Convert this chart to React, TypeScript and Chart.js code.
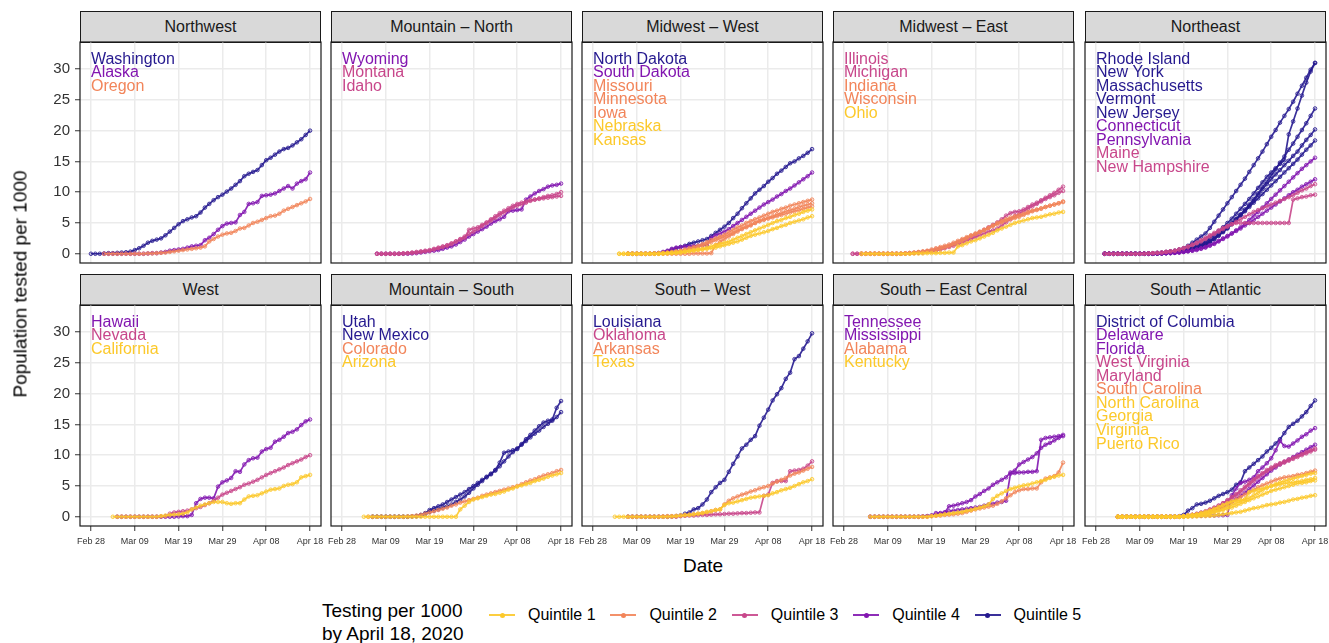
import React, { useEffect, useRef } from 'react';
import { Chart, registerables } from 'chart.js';

Chart.register(...registerables);

const FONT = '"Liberation Sans", Arial, Helvetica, sans-serif';
Chart.defaults.font.family = FONT;

// ---------- axis ticks / labels ----------
const dayTicks = [0, 10, 20, 30, 40, 50];
const dateLabels = ['Feb 28', 'Mar 09', 'Mar 19', 'Mar 29', 'Apr 08', 'Apr 18'];
const yTicks = [0, 5, 10, 15, 20, 25, 30];

const quintileNames = ['Quintile 1', 'Quintile 2', 'Quintile 3', 'Quintile 4', 'Quintile 5'];
const quintileColors = ['#FCC92B', '#F2855A', '#C8478B', '#8216B0', '#25198F'];

const regionNames = [
  'Northwest', 'Mountain \u2013 North', 'Midwest \u2013 West', 'Midwest \u2013 East', 'Northeast',
  'West', 'Mountain \u2013 South', 'South \u2013 West', 'South \u2013 East Central', 'South \u2013 Atlantic',
];

// ---------- series (population tested per 1000, one value per day from the start day) ----------
const washington = [0, 0, 0, 0.05, 0.1, 0.1, 0.15, 0.2, 0.25, 0.35,
  0.6, 0.9, 1.3, 1.8, 2.1, 2.3, 2.5, 3.0, 3.6, 4.2,
  4.8, 5.3, 5.6, 5.9, 6.1, 6.7, 7.5, 8.1, 8.7, 9.2,
  9.6, 10.1, 10.6, 11.2, 11.8, 12.6, 13.0, 13.3, 13.6, 14.4,
  15.2, 15.6, 16.1, 16.6, 17.0, 17.2, 17.6, 18.1, 18.6, 19.3, 20.0];
const alaska = [0, 0, 0, 0, 0, 0, 0, 0, 0, 0, 0.05, 0.1,
  0.1, 0.2, 0.3, 0.5, 0.6, 0.7, 0.8, 1.0, 1.2, 1.3, 1.4,
  2.2, 2.6, 3.2, 3.9, 4.5, 4.9, 5.0, 5.1, 6.3, 6.8, 8.1, 8.2, 8.4, 9.4, 9.5, 9.6, 9.8, 10.2, 10.6, 11.0, 10.6, 11.4, 11.8, 12.1, 13.2];
const oregon = [0, 0, 0, 0, 0, 0, 0, 0, 0, 0, 0.05, 0.05,
  0.1, 0.15, 0.2, 0.3, 0.4, 0.5, 0.6, 0.7, 0.8, 0.9, 1.0, 1.2,
  2.0, 2.4, 2.8, 3.1, 3.3, 3.4, 3.7, 4.1, 4.2, 4.6, 5.0, 5.2, 5.5, 5.8, 6.1, 6.2, 6.5, 7.0, 7.3, 7.6, 7.9, 8.2, 8.5, 8.9];

const wyoming = [0, 0, 0, 0, 0, 0, 0, 0, 0.05, 0.1,
  0.2, 0.3, 0.4, 0.5, 0.6, 0.8, 1.0, 1.2, 1.5, 1.9, 2.3, 2.8,
  3.2, 3.6, 4.0, 4.4, 4.9, 5.3, 5.6, 6.0, 6.9, 7.0,
  7.1, 7.2, 8.8, 9.3, 9.8, 10.2, 10.5, 10.9, 11.1, 11.2, 11.4];
const montana = [0, 0, 0, 0, 0, 0, 0.05, 0.1, 0.15, 0.2,
  0.3, 0.4, 0.5, 0.7, 0.9, 1.1, 1.3, 1.6, 2.0, 2.4, 2.8, 3.2,
  3.6, 4.0, 4.5, 5.0, 5.4, 5.8, 6.3, 6.7, 7.1, 7.5,
  7.8, 8.0, 8.3, 8.6, 8.8, 9.0, 9.2, 9.4, 9.5, 9.7, 10.0];
const idaho = [0, 0, 0, 0, 0, 0, 0.05, 0.1, 0.2, 0.3,
  0.4, 0.5, 0.6, 0.8, 1.0, 1.2, 1.4, 1.7, 2.0, 2.3, 2.6, 3.9,
  4.1, 4.3, 4.7, 5.1, 5.6, 6.1, 6.6, 7.0, 7.4, 7.8,
  8.1, 8.3, 8.5, 8.7, 8.8, 8.9, 9.0, 9.1, 9.2, 9.3, 9.4];

const northDakota = [0, 0, 0, 0, 0, 0, 0.05, 0.1, 0.2, 0.4,
  0.7, 0.9, 1.1, 1.3, 1.6, 1.8, 2.0, 2.2, 2.4, 2.9, 3.4, 3.9,
  4.4, 5.0, 5.8, 6.5, 7.4, 8.2, 9.0, 9.8, 10.4, 11.0,
  11.7, 12.3, 13.0, 13.5, 14.1, 14.7, 15.0, 15.5, 15.9, 16.4, 17.0];
const southDakota = [0, 0, 0, 0, 0, 0, 0.05, 0.1, 0.3, 0.5,
  0.8, 1.0, 1.1, 1.2, 1.2, 1.3, 1.3, 1.4, 1.4, 2.6, 3.0, 3.3,
  3.6, 4.0, 4.5, 5.0, 5.5, 6.0, 6.5, 7.0, 7.5, 8.0,
  8.4, 8.8, 9.3, 9.7, 10.2, 10.6, 11.1, 11.6, 12.1, 12.6, 13.2];
const missouri = [0, 0, 0, 0, 0, 0, 0, 0, 0, 0, 0, 0, 0, 0, 0, 0.05, 0.05, 0.05, 0.05, 0.1,
  1.4, 1.9, 2.4, 2.8, 3.2, 3.6, 4.0, 4.3, 4.6, 5.0, 5.3, 5.5,
  5.7, 5.9, 6.1, 6.3, 6.5, 6.7, 6.9, 7.1, 7.3, 7.5, 7.7];
const minnesota = [0, 0, 0, 0, 0, 0, 0.05, 0.1, 0.15, 0.2,
  0.3, 0.4, 0.5, 0.7, 0.9, 1.1, 1.3, 1.6, 1.9, 2.2, 2.5, 2.8,
  3.1, 3.5, 3.9, 4.3, 4.6, 5.0, 5.3, 5.6, 5.9, 6.2,
  6.5, 6.8, 7.0, 7.3, 7.5, 7.8, 8.0, 8.2, 8.4, 8.6, 8.8];
const iowa = [0, 0, 0, 0, 0, 0, 0, 0.05, 0.1, 0.15,
  0.2, 0.3, 0.4, 0.5, 0.7, 0.9, 1.1, 1.3, 1.6, 1.9, 2.2, 2.5,
  2.8, 3.1, 3.4, 3.8, 4.1, 4.4, 4.7, 5.0, 5.3, 5.6,
  5.9, 6.1, 6.4, 6.6, 6.9, 7.1, 7.3, 7.6, 7.8, 8.0, 8.2];
const nebraska = [0, 0, 0, 0, 0, 0, 0, 0, 0, 0, 0.05, 0.1,
  0.15, 0.2, 0.3, 0.4, 0.5, 0.6, 0.7, 0.8, 1.0, 1.2, 1.4, 1.6,
  1.8, 2.0, 2.3, 2.6, 2.9, 3.2, 3.5, 3.8, 4.1, 4.4,
  4.7, 5.0, 5.3, 5.5, 5.8, 6.0, 6.3, 6.5, 6.8, 7.0, 7.2];
const kansas = [0, 0, 0, 0, 0, 0, 0, 0, 0, 0, 0.05, 0.1,
  0.1, 0.15, 0.2, 0.3, 0.4, 0.5, 0.6, 0.7, 0.8, 0.9, 1.0, 1.2,
  1.4, 1.6, 1.8, 2.0, 2.3, 2.6, 2.9, 3.1, 3.3, 3.5,
  3.7, 4.0, 4.2, 4.5, 4.7, 5.0, 5.2, 5.4, 5.6, 5.9, 6.1];

const illinois = [0, 0, 0, 0, 0, 0, 0, 0, 0, 0, 0, 0,
  0.05, 0.1, 0.15, 0.2, 0.3, 0.4,
  0.5, 0.7, 0.9, 1.1, 1.3, 1.6, 1.9, 2.2, 2.5, 2.8,
  3.1, 3.5, 3.9, 4.3, 4.7, 5.1, 5.6, 6.2, 6.6, 6.8,
  6.9, 7.2, 7.6, 8.0, 8.3, 8.7, 9.1, 9.5, 9.9, 10.4, 10.9];
const michigan = [0, 0, 0, 0, 0, 0, 0, 0, 0, 0, 0, 0,
  0.05, 0.1, 0.1, 0.15, 0.2, 0.3,
  0.4, 0.5, 0.7, 0.9, 1.1, 1.3, 1.5, 1.8, 2.1, 2.4,
  2.7, 3.0, 3.3, 3.6, 3.8, 4.1, 4.6, 5.1, 5.6, 6.1,
  6.5, 6.9, 7.3, 7.7, 8.1, 8.5, 8.9, 9.2, 9.5, 9.9, 10.2];
const indiana = [0, 0, 0, 0, 0, 0, 0, 0, 0, 0,
  0.05, 0.1, 0.2, 0.3, 0.4, 0.5,
  0.7, 0.9, 1.1, 1.3, 1.5, 1.8, 2.1, 2.4, 2.7, 3.0,
  3.3, 3.6, 3.9, 4.2, 4.5, 4.8, 5.1, 5.4, 5.6, 5.8,
  6.0, 6.3, 6.6, 6.9, 7.1, 7.3, 7.6, 7.8, 8.0, 8.2, 8.5];
const wisconsin = [0, 0, 0, 0, 0, 0, 0, 0, 0, 0,
  0.05, 0.1, 0.15, 0.2, 0.3, 0.4,
  0.5, 0.6, 0.8, 1.0, 1.2, 1.5, 1.8, 2.1, 2.5, 2.9,
  3.2, 3.5, 3.8, 4.2, 4.6, 5.0, 5.3, 5.6, 5.9, 6.1,
  6.3, 6.5, 6.8, 7.0, 7.2, 7.4, 7.6, 7.8, 8.0, 8.2, 8.4];
const ohio = [0, 0, 0, 0, 0, 0, 0, 0, 0, 0, 0, 0, 0.05, 0.05, 0.05, 0.1, 0.1, 0.1, 0.15, 0.15, 0.2, 0.2,
  1.2, 1.4, 1.7, 2.0,
  2.2, 2.5, 2.8, 3.1, 3.4, 3.8, 4.1, 4.4, 4.7, 5.0,
  5.2, 5.4, 5.6, 5.8, 5.9, 6.0, 6.2, 6.4, 6.5, 6.7, 6.8];

const rhodeIsland = [0, 0, 0, 0, 0, 0, 0, 0, 0, 0, 0, 0, 0.05, 0.1, 0.15, 0.2,
  0.3, 0.4, 0.6, 0.8, 1.0, 1.3, 1.6, 2.0, 2.5, 3.1, 3.7, 4.3,
  5.0, 5.7, 6.5, 7.3, 8.1, 8.9, 9.8, 10.7, 11.6, 12.5,
  13.2, 13.9, 14.6, 15.2, 19.4, 21.5, 23.6, 25.7, 27.8, 29.6, 31.0];
const newYork = [0, 0, 0, 0, 0, 0, 0, 0, 0, 0, 0.05, 0.1, 0.15, 0.2, 0.3, 0.4,
  0.5, 0.7, 0.9, 1.3, 1.8, 2.3, 2.8, 3.3, 4.2, 5.2, 6.2, 7.2,
  8.2, 9.2, 10.2, 11.2, 12.2, 13.3, 14.4, 15.5, 16.6, 17.8,
  19.0, 20.1, 21.3, 22.4, 23.5, 24.7, 26.0, 27.3, 28.6, 29.9, 31.0];
const massachusetts = [0, 0, 0, 0, 0, 0, 0, 0, 0, 0, 0, 0, 0.05, 0.1, 0.15, 0.2,
  0.3, 0.4, 0.5, 0.7, 0.9, 1.1, 1.4, 1.7, 2.1, 2.6, 3.1, 3.7,
  4.3, 5.0, 5.7, 6.4, 7.2, 8.0, 8.9, 9.8, 10.8, 11.7,
  12.7, 13.7, 14.8, 15.8, 16.9, 17.9, 19.0, 20.1, 21.2, 22.4, 23.6];
const vermont = [0, 0, 0, 0, 0, 0, 0, 0, 0, 0, 0, 0, 0.05, 0.1, 0.1, 0.15,
  0.2, 0.3, 0.4, 0.5, 0.7, 0.9, 1.2, 1.5, 1.9, 2.4, 3.0, 3.6,
  4.2, 4.9, 5.6, 6.3, 7.0, 7.8, 8.6, 9.6, 10.5, 11.3,
  12.1, 12.9, 13.6, 14.4, 15.1, 15.9, 16.6, 17.6, 18.5, 19.3, 20.2];
const newJersey = [0, 0, 0, 0, 0, 0, 0, 0, 0, 0, 0, 0, 0.05, 0.05, 0.1, 0.15,
  0.2, 0.3, 0.4, 0.5, 0.7, 0.9, 1.2, 1.5, 1.9, 2.4, 2.9, 3.5,
  4.1, 4.8, 5.5, 6.2, 6.9, 7.6, 8.3, 9.0, 9.7, 10.4,
  11.1, 11.8, 12.5, 13.2, 13.9, 14.6, 15.3, 16.1, 16.9, 17.6, 18.4];
const connecticut = [0, 0, 0, 0, 0, 0, 0, 0, 0, 0, 0, 0, 0.05, 0.05, 0.1, 0.1,
  0.15, 0.2, 0.3, 0.4, 0.5, 0.6, 0.8, 1.0, 1.3, 1.6, 2.0, 2.4,
  2.8, 3.3, 3.8, 4.3, 4.9, 5.5, 6.2, 6.8, 7.5, 8.2,
  8.9, 9.6, 10.3, 11.0, 11.7, 12.4, 13.1, 13.8, 14.4, 15.0, 15.6];
const pennsylvania = [0, 0, 0, 0, 0, 0, 0, 0, 0, 0, 0, 0, 0.05, 0.05, 0.1, 0.1,
  0.15, 0.2, 0.3, 0.4, 0.5, 0.7, 0.9, 1.1, 1.4, 1.7, 2.1, 2.5,
  2.9, 3.3, 3.7, 4.1, 4.6, 5.0, 5.5, 6.0, 6.5, 7.0,
  7.5, 8.0, 8.5, 9.0, 9.5, 10.0, 10.4, 10.9, 11.3, 11.7, 12.1];
const maine = [0, 0, 0, 0, 0, 0, 0, 0, 0, 0, 0.05, 0.1, 0.15, 0.2, 0.3, 0.4,
  0.5, 0.7, 0.9, 1.1, 1.4, 1.7, 2.0, 2.4, 2.8, 3.2, 3.6, 4.0,
  4.4, 4.8, 5.2, 5.6, 6.0, 6.4, 6.8, 7.1, 7.4, 7.7,
  8.0, 8.3, 8.6, 8.9, 9.2, 9.5, 9.9, 10.3, 10.6, 11.0, 11.3];
const newHampshire = [0, 0, 0, 0, 0, 0, 0, 0, 0, 0, 0.05, 0.1, 0.15, 0.2, 0.3, 0.4,
  0.5, 0.7, 0.9, 1.2, 1.5, 1.8, 2.2, 2.6, 3.0, 3.4, 3.8, 4.2,
  4.5, 4.8, 5.0, 5.0, 5.0, 5.0, 5.0, 5.0, 5.0, 5.0,
  5.0, 5.0, 5.0, 5.0, 5.0, 8.8, 9.0, 9.2, 9.3, 9.5, 9.6];

const hawaii = [0, 0, 0, 0, 0, 0, 0, 0, 0, 0, 0, 0, 0, 0, 0.05, 0.1,
  0.1, 0.3, 2.2, 2.9, 3.1, 3.1, 3.0, 4.9, 5.6, 5.9,
  6.3, 7.4, 7.3, 8.5, 9.2, 9.5, 9.6, 10.6, 11.0, 11.2,
  12.2, 12.5, 13.0, 13.6, 13.8, 14.2, 14.9, 15.5, 15.8];
const nevada = [0, 0, 0, 0, 0, 0, 0, 0, 0, 0, 0.05, 0.1,
  0.5, 0.7, 0.8, 0.9, 1.0, 1.2, 1.4, 1.6, 1.9, 2.2, 2.6, 3.1,
  3.6, 3.9, 4.2, 4.5, 4.8, 5.2, 5.4, 5.7, 6.0, 6.4,
  6.8, 7.1, 7.4, 7.7, 8.0, 8.4, 8.7, 9.0, 9.3, 9.7, 10.0];
const california = [0, 0, 0, 0, 0, 0, 0, 0, 0, 0, 0, 0.1, 0.2,
  0.3, 0.35, 0.4, 0.5, 0.7, 1.2, 1.5, 1.8, 2.0, 2.2, 2.4, 2.4,
  2.4, 2.2, 2.1, 2.2, 2.2, 2.8, 3.3, 3.4, 3.5, 3.8,
  4.1, 4.4, 4.5, 4.6, 5.0, 5.2, 5.3, 5.6, 6.4, 6.6, 6.8];

const utah = [0, 0, 0, 0, 0, 0, 0, 0, 0, 0.05, 0.1,
  0.3, 0.6, 1.1, 1.4, 1.7, 2.0, 2.4, 2.8, 3.2, 3.6, 4.0, 4.5,
  5.0, 5.5, 6.0, 6.4, 6.9, 7.6, 8.8, 10.4, 10.6, 10.8,
  11.1, 11.7, 12.3, 12.9, 13.5, 14.0, 14.6, 15.1, 15.6, 16.2, 17.0];
const newMexico = [0, 0, 0, 0, 0, 0, 0, 0, 0, 0.05, 0.1,
  0.2, 0.4, 0.8, 1.0, 1.2, 1.5, 1.7, 2.0, 2.4, 2.8, 3.3, 3.9,
  4.6, 5.2, 5.8, 6.5, 7.0, 7.5, 8.2, 9.0, 9.8, 10.5,
  11.0, 11.8, 12.6, 13.3, 14.0, 14.7, 15.3, 15.6, 15.8, 17.7, 18.8];
const colorado = [0, 0, 0, 0, 0, 0, 0, 0, 0, 0.05, 0.1, 0.2,
  0.3, 0.5, 0.7, 0.9, 1.1, 1.3, 1.5, 1.8, 2.0, 2.3, 2.5, 2.7,
  2.9, 3.1, 3.4, 3.6, 3.8, 4.0, 4.2, 4.4, 4.6, 4.8,
  5.0, 5.3, 5.6, 5.9, 6.1, 6.4, 6.7, 6.9, 7.1, 7.4, 7.6];
const arizona = [0, 0, 0, 0, 0, 0, 0, 0, 0, 0, 0, 0, 0, 0, 0, 0, 0, 0, 0, 0, 0, 0,
  1.2, 1.8, 2.4,
  2.8, 3.0, 3.2, 3.4, 3.6, 3.7, 3.9, 4.1, 4.4, 4.6,
  4.9, 5.1, 5.3, 5.5, 5.8, 6.0, 6.2, 6.5, 6.7, 6.9, 7.1];

const louisiana = [0, 0, 0, 0, 0, 0, 0, 0, 0, 0, 0.05, 0.1,
  0.2, 0.5, 0.7, 1.2, 1.4, 2.0, 2.8, 4.0, 4.8, 5.5,
  6.0, 7.3, 8.6, 9.8, 11.1, 11.7, 12.5, 13.1, 14.8, 16.1,
  17.4, 18.9, 19.9, 20.9, 22.4, 23.4, 25.6, 26.1, 27.3, 28.5, 29.8];
const oklahoma = [0, 0, 0, 0, 0, 0, 0, 0, 0, 0, 0, 0,
  0.1, 0.15, 0.2, 0.2, 0.25, 0.3, 0.3, 0.35, 0.4, 0.4, 0.45, 0.5, 0.5, 0.55, 0.6, 0.6, 0.65, 0.7, 0.7,
  3.4, 3.6, 5.5, 5.8, 5.8, 5.8, 7.4, 7.5, 7.6, 7.8, 8.3, 9.0];
const arkansas = [0, 0, 0, 0, 0, 0, 0, 0, 0.05, 0.1, 0.1, 0.15,
  0.2, 0.3, 0.35, 0.4, 0.5, 0.6, 0.7, 0.9, 1.1, 1.2,
  2.0, 2.6, 3.0, 3.3, 3.6, 3.8, 4.1, 4.3, 4.6, 4.8,
  5.0, 5.4, 5.7, 6.0, 6.3, 6.7, 7.0, 7.2, 7.5, 7.8, 8.1];
const texas = [0, 0, 0, 0, 0, 0, 0, 0, 0, 0, 0, 0, 0, 0.05, 0.1,
  0.2, 0.25, 0.3, 0.4, 0.5, 0.6, 0.8, 0.9, 1.1, 1.2,
  1.9, 2.2, 2.3, 2.5, 2.7, 2.9, 3.1, 3.2, 3.3, 3.4,
  3.5, 3.8, 4.0, 4.3, 4.5, 4.7, 5.0, 5.3, 5.6, 5.8, 6.1];

const tennessee = [0, 0, 0, 0, 0, 0, 0, 0, 0, 0, 0, 0, 0.05, 0.1,
  0.2, 0.6, 0.6, 0.7, 1.7, 1.8, 2.0, 2.2, 2.4, 2.7,
  3.3, 3.7, 4.2, 4.6, 5.2, 5.6, 6.0, 6.4, 7.2, 7.5,
  8.5, 8.9, 9.3, 9.7, 10.3, 11.2, 11.7, 12.0, 12.4, 12.8, 13.1];
const mississippi = [0, 0, 0, 0, 0, 0, 0, 0, 0, 0, 0, 0, 0.05, 0.1,
  0.2, 0.3, 0.5, 0.7, 0.9, 1.0, 1.1, 1.2, 1.3, 1.4,
  1.5, 1.6, 1.8, 2.0, 2.1, 2.3, 2.4, 2.6, 7.0, 7.1,
  7.2, 7.2, 7.3, 7.3, 7.4, 12.5, 12.8, 12.9, 13.0, 13.1, 13.3];
const alabama = [0, 0, 0, 0, 0, 0, 0, 0, 0, 0, 0, 0, 0, 0,
  0.1, 0.15, 0.2, 0.3, 0.35, 0.4, 0.5, 0.6, 0.8, 1.0,
  1.2, 1.35, 1.5, 1.65, 1.8, 2.1, 2.5, 3.0, 3.5, 4.0,
  4.3, 4.5, 4.5, 4.6, 4.6, 5.6, 6.2, 6.4, 6.6, 7.2, 8.8];
const kentucky = [0, 0, 0, 0, 0, 0, 0, 0, 0, 0, 0, 0, 0, 0,
  0.1, 0.2, 0.3, 0.4, 0.5, 0.6, 0.7, 0.8, 1.0, 1.1,
  1.3, 1.5, 1.7, 2.0, 2.9, 3.4, 3.8, 4.2, 4.5, 4.7,
  4.9, 5.1, 5.2, 5.4, 5.6, 5.8, 6.0, 6.3, 6.5, 6.7, 6.8];

const districtOfColumbia = [0, 0, 0, 0, 0, 0, 0, 0, 0, 0, 0, 0, 0, 0.05, 0.1,
  0.3, 1.0, 1.4, 2.0, 2.1, 2.3, 2.6, 3.0, 3.4, 3.7,
  4.0, 4.4, 5.2, 5.6, 7.4, 8.0, 8.6, 9.2, 9.8, 10.6,
  11.2, 11.9, 12.6, 13.6, 14.6, 15.1, 15.6, 16.3, 17.0, 18.0, 18.9];
const delaware = [0, 0, 0, 0, 0, 0, 0, 0, 0, 0, 0, 0, 0, 0, 0,
  0.1, 0.1, 0.1, 0.15, 0.15, 0.2, 0.2, 0.2, 0.25, 0.25,
  0.3, 3.5, 4.6, 5.5, 5.7, 6.0, 6.4, 7.4, 8.0, 8.7,
  9.5, 10.8, 12.3, 11.5, 11.4, 11.9, 12.4, 13.0, 13.4, 14.0, 14.4];
const florida = [0, 0, 0, 0, 0, 0, 0, 0, 0, 0, 0, 0, 0, 0, 0,
  0.1, 0.2, 0.3, 0.4, 0.5, 0.6, 0.8, 1.0, 1.3, 1.6,
  2.0, 2.4, 2.9, 3.4, 3.9, 4.5, 5.1, 5.7, 6.3, 6.9,
  7.5, 8.0, 8.5, 8.9, 9.3, 9.7, 10.1, 10.5, 10.9, 11.3, 11.7];
const westVirginia = [0, 0, 0, 0, 0, 0, 0, 0, 0, 0, 0, 0, 0, 0, 0,
  0.1, 0.2, 0.3, 0.4, 0.6, 0.8, 1.1, 1.4, 1.8, 2.2,
  2.7, 3.2, 3.7, 4.3, 4.9, 5.5, 6.1, 6.6, 7.1, 7.6,
  8.0, 8.4, 8.7, 9.0, 9.3, 9.6, 9.9, 10.2, 10.5, 10.8, 11.1];
const maryland = [0, 0, 0, 0, 0, 0, 0, 0, 0, 0, 0, 0, 0, 0, 0,
  0.1, 0.2, 0.3, 0.5, 0.7, 0.9, 1.2, 1.5, 1.8, 2.2,
  2.6, 3.0, 3.5, 4.0, 4.6, 5.2, 5.8, 6.4, 6.9, 7.4,
  7.8, 8.2, 8.5, 8.8, 9.1, 9.4, 9.7, 10.0, 10.3, 10.6, 10.9];
const southCarolina = [0, 0, 0, 0, 0, 0, 0, 0, 0, 0, 0, 0, 0, 0, 0,
  0.1, 0.2, 0.3, 0.4, 0.5, 0.7, 0.9, 1.1, 1.4, 1.7,
  2.0, 2.4, 2.8, 3.2, 3.6, 4.0, 4.4, 4.8, 5.1, 5.4,
  5.7, 6.0, 6.2, 6.4, 6.5, 6.6, 6.8, 6.9, 7.1, 7.3, 7.5];
const northCarolina = [0, 0, 0, 0, 0, 0, 0, 0, 0, 0, 0, 0, 0, 0, 0,
  0.1, 0.15, 0.2, 0.3, 0.4, 0.5, 0.7, 0.9, 1.1, 1.3,
  1.6, 1.9, 2.2, 2.5, 2.8, 3.1, 3.5, 3.9, 4.3, 4.7,
  5.0, 5.3, 5.6, 5.8, 6.0, 6.2, 6.4, 6.6, 6.8, 7.0, 7.1];
const georgia = [0, 0, 0, 0, 0, 0, 0, 0, 0, 0, 0, 0, 0, 0, 0,
  0.1, 0.2, 0.3, 0.4, 0.6, 0.8, 1.0, 1.3, 1.6, 1.9,
  2.2, 2.5, 2.6, 2.7, 2.8, 4.0, 4.2, 4.4, 4.6, 4.8,
  5.0, 5.1, 5.3, 5.4, 5.5, 5.6, 5.7, 5.8, 6.0, 6.1, 6.3];
const virginia = [0, 0, 0, 0, 0, 0, 0, 0, 0, 0, 0, 0, 0, 0, 0,
  0.05, 0.1, 0.15, 0.2, 0.3, 0.4, 0.5, 0.7, 0.9, 1.1,
  1.3, 1.5, 1.8, 2.1, 2.4, 2.7, 3.0, 3.3, 3.6, 3.9,
  4.2, 4.4, 4.6, 4.8, 5.0, 5.2, 5.4, 5.5, 5.6, 5.8, 5.9];
const puertoRico = [0, 0, 0, 0, 0, 0, 0, 0, 0, 0, 0, 0, 0, 0, 0,
  0, 0, 0.05, 0.05, 0.1, 0.1, 0.15, 0.2, 0.3, 0.4,
  0.5, 0.6, 0.7, 0.8, 1.0, 1.2, 1.4, 1.5, 1.7, 1.9,
  2.0, 2.1, 2.3, 2.4, 2.6, 2.8, 2.9, 3.1, 3.2, 3.4, 3.5];

// name, region index, quintile (1-5), first day (days after Feb 28), values
const stateRows: [string, number, number, number, number[]][] = [
  ['Washington', 0, 5, 0, washington],
  ['Alaska', 0, 4, 3, alaska],
  ['Oregon', 0, 2, 3, oregon],
  ['Wyoming', 1, 4, 8, wyoming],
  ['Montana', 1, 3, 8, montana],
  ['Idaho', 1, 3, 8, idaho],
  ['North Dakota', 2, 5, 8, northDakota],
  ['South Dakota', 2, 4, 8, southDakota],
  ['Missouri', 2, 2, 8, missouri],
  ['Minnesota', 2, 2, 8, minnesota],
  ['Iowa', 2, 2, 8, iowa],
  ['Nebraska', 2, 1, 6, nebraska],
  ['Kansas', 2, 1, 6, kansas],
  ['Illinois', 3, 3, 2, illinois],
  ['Michigan', 3, 3, 2, michigan],
  ['Indiana', 3, 2, 4, indiana],
  ['Wisconsin', 3, 2, 4, wisconsin],
  ['Ohio', 3, 1, 4, ohio],
  ['Rhode Island', 4, 5, 2, rhodeIsland],
  ['New York', 4, 5, 2, newYork],
  ['Massachusetts', 4, 5, 2, massachusetts],
  ['Vermont', 4, 5, 2, vermont],
  ['New Jersey', 4, 5, 2, newJersey],
  ['Connecticut', 4, 4, 2, connecticut],
  ['Pennsylvania', 4, 4, 2, pennsylvania],
  ['Maine', 4, 3, 2, maine],
  ['New Hampshire', 4, 3, 2, newHampshire],
  ['Hawaii', 5, 4, 6, hawaii],
  ['Nevada', 5, 3, 6, nevada],
  ['California', 5, 1, 5, california],
  ['Utah', 6, 5, 7, utah],
  ['New Mexico', 6, 5, 7, newMexico],
  ['Colorado', 6, 2, 6, colorado],
  ['Arizona', 6, 1, 5, arizona],
  ['Louisiana', 7, 5, 8, louisiana],
  ['Oklahoma', 7, 3, 8, oklahoma],
  ['Arkansas', 7, 2, 8, arkansas],
  ['Texas', 7, 1, 5, texas],
  ['Tennessee', 8, 4, 6, tennessee],
  ['Mississippi', 8, 4, 6, mississippi],
  ['Alabama', 8, 2, 6, alabama],
  ['Kentucky', 8, 1, 6, kentucky],
  ['District of Columbia', 9, 5, 5, districtOfColumbia],
  ['Delaware', 9, 4, 5, delaware],
  ['Florida', 9, 4, 5, florida],
  ['West Virginia', 9, 3, 5, westVirginia],
  ['Maryland', 9, 3, 5, maryland],
  ['South Carolina', 9, 2, 5, southCarolina],
  ['North Carolina', 9, 1, 5, northCarolina],
  ['Georgia', 9, 1, 5, georgia],
  ['Virginia', 9, 1, 5, virginia],
  ['Puerto Rico', 9, 1, 5, puertoRico],
];

// ---------- layout ----------
const PLOT_W = 241;
const PLOT_H = 221;
const COL_X0 = 79.5;
const COL_STEP = 251.3;
const ROW_TOPS = [42, 305];
const STRIP_H = 32;
const X_MIN = -2.5, X_MAX = 52.5;
const Y_MIN = -1.5, Y_MAX = 34.4;
const LABEL_X = 0, LABEL_Y0 = 31.6, LABEL_DY = 2.2;

function rgba(hex: string, a: number) {
  const n = parseInt(hex.slice(1), 16);
  return `rgba(${(n >> 16) & 255},${(n >> 8) & 255},${n & 255},${a})`;
}

function Panel({ region }: { region: number }) {
  const ref = useRef<HTMLCanvasElement | null>(null);
  const row = Math.floor(region / 5);
  const col = region % 5;
  const plotLeft = Math.round(COL_X0 + col * COL_STEP);
  const plotTop = ROW_TOPS[row];
  const padL = col === 0 ? 62 : 20;
  const padR = 20;
  const padT = 20;
  const padB = row === 1 ? 26 : 20;
  const cw = PLOT_W + padL + padR;
  const ch = PLOT_H + padT + padB;

  useEffect(() => {
    if (!ref.current) return;
    const rows = stateRows.filter((r) => r[1] === region);
    const datasets = rows.slice().reverse().map(([name, , q, start, vals]) => {
      const c = quintileColors[q - 1];
      return {
        label: name,
        data: vals.map((v, i) => ({ x: start + i, y: v })),
        borderColor: rgba(c, 0.9),
        borderWidth: 1.7,
        pointRadius: 1.8,
        pointBorderWidth: 0.9,
        pointBorderColor: rgba(c, 0.9),
        pointBackgroundColor: rgba(c, 0.2),
        pointHoverRadius: 0,
        tension: 0,
      };
    });
    const labels = rows.map(([name, , q]) => ({ text: name, color: quintileColors[q - 1] }));

    const framePlugin = {
      id: 'frame',
      afterDraw(chart: any) {
        const { ctx, chartArea: a } = chart;
        ctx.save();
        ctx.strokeStyle = '#1A1A1A';
        ctx.lineWidth = 1.2;
        ctx.strokeRect(a.left, a.top, a.right - a.left, a.bottom - a.top);
        ctx.restore();
      },
    };
    const labelPlugin = {
      id: 'stateLabels',
      afterDatasetsDraw(chart: any) {
        const { ctx } = chart;
        const xs = chart.scales.x;
        const ys = chart.scales.y;
        ctx.save();
        ctx.font = `16px ${FONT}`;
        ctx.textAlign = 'left';
        ctx.textBaseline = 'middle';
        labels.forEach((l, i) => {
          ctx.fillStyle = l.color;
          ctx.fillText(l.text, xs.getPixelForValue(LABEL_X), ys.getPixelForValue(LABEL_Y0 - i * LABEL_DY));
        });
        ctx.restore();
      },
    };

    const chart = new Chart(ref.current, {
      type: 'line',
      data: { datasets } as any,
      options: {
        animation: false,
        responsive: false,
        maintainAspectRatio: false,
        devicePixelRatio: 1,
        events: [],
        layout: { padding: { left: col === 0 ? 0 : padL, right: padR, top: padT, bottom: row === 1 ? 0 : padB } },
        plugins: { legend: { display: false }, tooltip: { enabled: false } },
        scales: {
          x: {
            type: 'linear',
            min: X_MIN,
            max: X_MAX,
            afterBuildTicks: (s: any) => { s.ticks = dayTicks.map((v) => ({ value: v })); },
            afterFit: (s: any) => { s.height = row === 1 ? 26 : 0; },
            ticks: {
              display: row === 1,
              autoSkip: false,
              maxRotation: 0,
              minRotation: 0,
              padding: 5,
              color: '#333333',
              font: { size: 9, family: FONT },
              callback: (v: any) => dateLabels[dayTicks.indexOf(Number(v))] ?? '',
            },
            grid: { color: '#EBEBEB', lineWidth: 1.5, drawTicks: row === 1, tickLength: 5, tickColor: '#333333', tickWidth: 1 },
            border: { display: false },
          },
          y: {
            type: 'linear',
            min: Y_MIN,
            max: Y_MAX,
            afterBuildTicks: (s: any) => { s.ticks = yTicks.map((v) => ({ value: v })); },
            afterFit: (s: any) => { s.width = col === 0 ? padL : 0; },
            ticks: {
              display: col === 0,
              autoSkip: false,
              padding: 5,
              color: '#333333',
              font: { size: 15, family: FONT },
              callback: (v: any) => String(v),
            },
            grid: { color: '#EBEBEB', lineWidth: 1.5, drawTicks: col === 0, tickLength: 5, tickColor: '#333333', tickWidth: 1 },
            border: { display: false },
          },
        },
      } as any,
      plugins: [framePlugin, labelPlugin],
    });
    return () => chart.destroy();
  }, []);

  return (
    <>
      <div
        style={{
          position: 'absolute', left: plotLeft, top: plotTop - STRIP_H + 1, width: PLOT_W, height: STRIP_H,
          boxSizing: 'border-box', border: '1px solid #1A1A1A', background: '#D9D9D9',
          display: 'flex', alignItems: 'center', justifyContent: 'center',
          fontSize: 16, color: '#1A1A1A', whiteSpace: 'nowrap',
        }}
      >
        {regionNames[region]}
      </div>
      <canvas
        ref={ref}
        width={cw}
        height={ch}
        style={{ position: 'absolute', left: plotLeft - padL, top: plotTop - padT, width: cw, height: ch }}
      />
    </>
  );
}

export default function App() {
  const legendLineX0 = 489;
  const legendStep = 121.4;
  return (
    <div
      style={{
        position: 'fixed', left: 0, top: 0, width: 1329, height: 643, overflow: 'hidden',
        background: '#FFFFFF', fontFamily: FONT, color: '#000',
      }}
    >
      {regionNames.map((_, i) => <Panel key={i} region={i} />)}

      <div
        style={{
          position: 'absolute', left: 20, top: 284, transform: 'translate(-50%, -50%) rotate(-90deg)',
          whiteSpace: 'nowrap', fontSize: 19, lineHeight: '19px',
        }}
      >
        Population tested per 1000
      </div>

      <div
        style={{
          position: 'absolute', left: 703, top: 565, transform: 'translate(-50%, -50%)',
          whiteSpace: 'nowrap', fontSize: 19, lineHeight: '19px',
        }}
      >
        Date
      </div>

      <div style={{ position: 'absolute', left: 322, top: 599, fontSize: 19, lineHeight: '23px', whiteSpace: 'nowrap' }}>
        <div>Testing per 1000</div>
        <div>by April 18, 2020</div>
      </div>

      {quintileNames.map((name, i) => {
        const lx = legendLineX0 + i * legendStep;
        const c = quintileColors[i];
        return (
          <React.Fragment key={name}>
            <div style={{ position: 'absolute', left: lx, top: 614, width: 26, height: 2, background: rgba(c, 0.9) }} />
            <div
              style={{
                position: 'absolute', left: lx + 13 - 2.5, top: 612.5, width: 5, height: 5,
                borderRadius: '50%', background: c,
              }}
            />
            <div
              style={{
                position: 'absolute', left: lx + 39, top: 615, transform: 'translateY(-50%)',
                fontSize: 16, lineHeight: '16px', whiteSpace: 'nowrap',
              }}
            >
              {name}
            </div>
          </React.Fragment>
        );
      })}
    </div>
  );
}
